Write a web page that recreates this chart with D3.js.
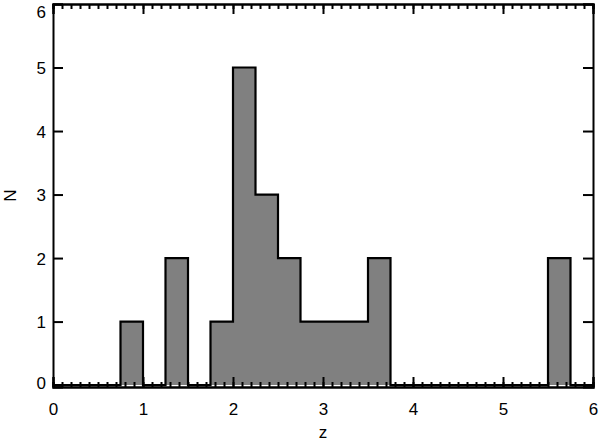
<!DOCTYPE html>
<html>
<head>
<meta charset="utf-8">
<script src="https://cdn.jsdelivr.net/npm/d3@7"></script>
<style>
  body { margin: 0; background: #fff; }
  text { font-family: "Liberation Sans", Arial, sans-serif; fill: #000; }
</style>
</head>
<body>
<div id="chart"></div>
<script>
// histogram bins (left edge of each 0.25-wide bin) and counts
var binStarts = [0.75, 1.25, 1.75, 2.0, 2.25, 2.5, 2.75, 3.0, 3.25, 3.5, 5.5];
var binCounts = [1, 2, 1, 5, 3, 2, 1, 1, 1, 2, 2];
var binWidth = 0.25;
var xTicks = [0, 1, 2, 3, 4, 5, 6];
var yTicks = [0, 1, 2, 3, 4, 5, 6];

var width = 600, height = 442;
var margin = {left: 53, right: 7, top: 4, bottom: 55};

var svg = d3.select('#chart').append('svg')
	.attr('width', width).attr('height', height);

var x = d3.scaleLinear().domain([0, 6]).range([margin.left, width - margin.right]);
var y = d3.scaleLinear().domain([-0.03, 6]).range([height - margin.bottom, margin.top]);

// step points over the whole 0..6 range, empty bins sit at 0
var steps = d3.range(0, 6, binWidth).map(function(s) {
	var i = binStarts.findIndex(function(b) { return Math.abs(b - s) < 1e-6; });
	return {x: s, n: i < 0 ? 0 : binCounts[i]};
});
steps.push({x: 6, n: 0});

var area = d3.area().curve(d3.curveStepAfter)
	.x(function(d) { return x(d.x); })
	.y0(y(0))
	.y1(function(d) { return y(d.n); });
var line = d3.line().curve(d3.curveStepAfter)
	.x(function(d) { return x(d.x); })
	.y(function(d) { return y(d.n); });

svg.append('path').datum(steps)
	.attr('d', area)
	.attr('fill', '#808080');
svg.append('path').datum(steps)
	.attr('d', line)
	.attr('fill', 'none')
	.attr('stroke', '#000')
	.attr('stroke-width', 2.2);

// axes with IDL style ticks
var minor = d3.range(0, 6.001, 0.1);
var axBottom = svg.append('g').attr('transform', 'translate(0,' + y.range()[0] + ')')
	.call(d3.axisBottom(x).tickValues(minor).tickSize(-5).tickFormat(''));
var axBottomMaj = svg.append('g').attr('transform', 'translate(0,' + y.range()[0] + ')')
	.call(d3.axisBottom(x).tickValues(xTicks).tickSize(-10).tickPadding(20).tickFormat(d3.format('d')));
var axTop = svg.append('g').attr('transform', 'translate(0,' + y.range()[1] + ')')
	.call(d3.axisTop(x).tickValues(minor).tickSize(-5).tickFormat(''));
var axTopMaj = svg.append('g').attr('transform', 'translate(0,' + y.range()[1] + ')')
	.call(d3.axisTop(x).tickValues(xTicks).tickSize(-10).tickFormat(''));
var axLeft = svg.append('g').attr('transform', 'translate(' + x.range()[0] + ',0)')
	.call(d3.axisLeft(y).tickValues(yTicks).tickSize(-10).tickPadding(7).tickFormat(d3.format('d')));
var axRight = svg.append('g').attr('transform', 'translate(' + x.range()[1] + ',0)')
	.call(d3.axisRight(y).tickValues(yTicks).tickSize(-10).tickFormat(''));

[axBottom, axBottomMaj, axTop, axTopMaj, axLeft, axRight].forEach(function(a) {
	a.selectAll('.domain').attr('stroke', '#000').attr('stroke-width', 2);
	a.selectAll('.tick line').attr('stroke', '#000').attr('stroke-width', 2);
	a.selectAll('text').style('font-size', '17px').attr('font-family', null);
});
axBottomMaj.selectAll('text').attr('dy', '0.71em').attr('y', 16);
axLeft.selectAll('text').attr('dy', '0.36em');
// keep the top label inside the page, as in the original
axLeft.selectAll('.tick').filter(function(d) { return d === 6; })
	.select('text').attr('dy', '0.36em').attr('y', 7);
axLeft.selectAll('.tick').filter(function(d) { return d === 0; })
	.select('text').attr('y', -3);

// axis titles
svg.append('text')
	.attr('x', (x.range()[0] + x.range()[1]) / 2)
	.attr('y', 438)
	.attr('text-anchor', 'middle')
	.style('font-size', '17px')
	.text('z');
svg.append('text')
	.attr('transform', 'translate(16,' + ((y.range()[0] + y.range()[1]) / 2) + ') rotate(-90)')
	.attr('text-anchor', 'middle')
	.style('font-size', '17px')
	.text('N');
</script>
</body>
</html>
